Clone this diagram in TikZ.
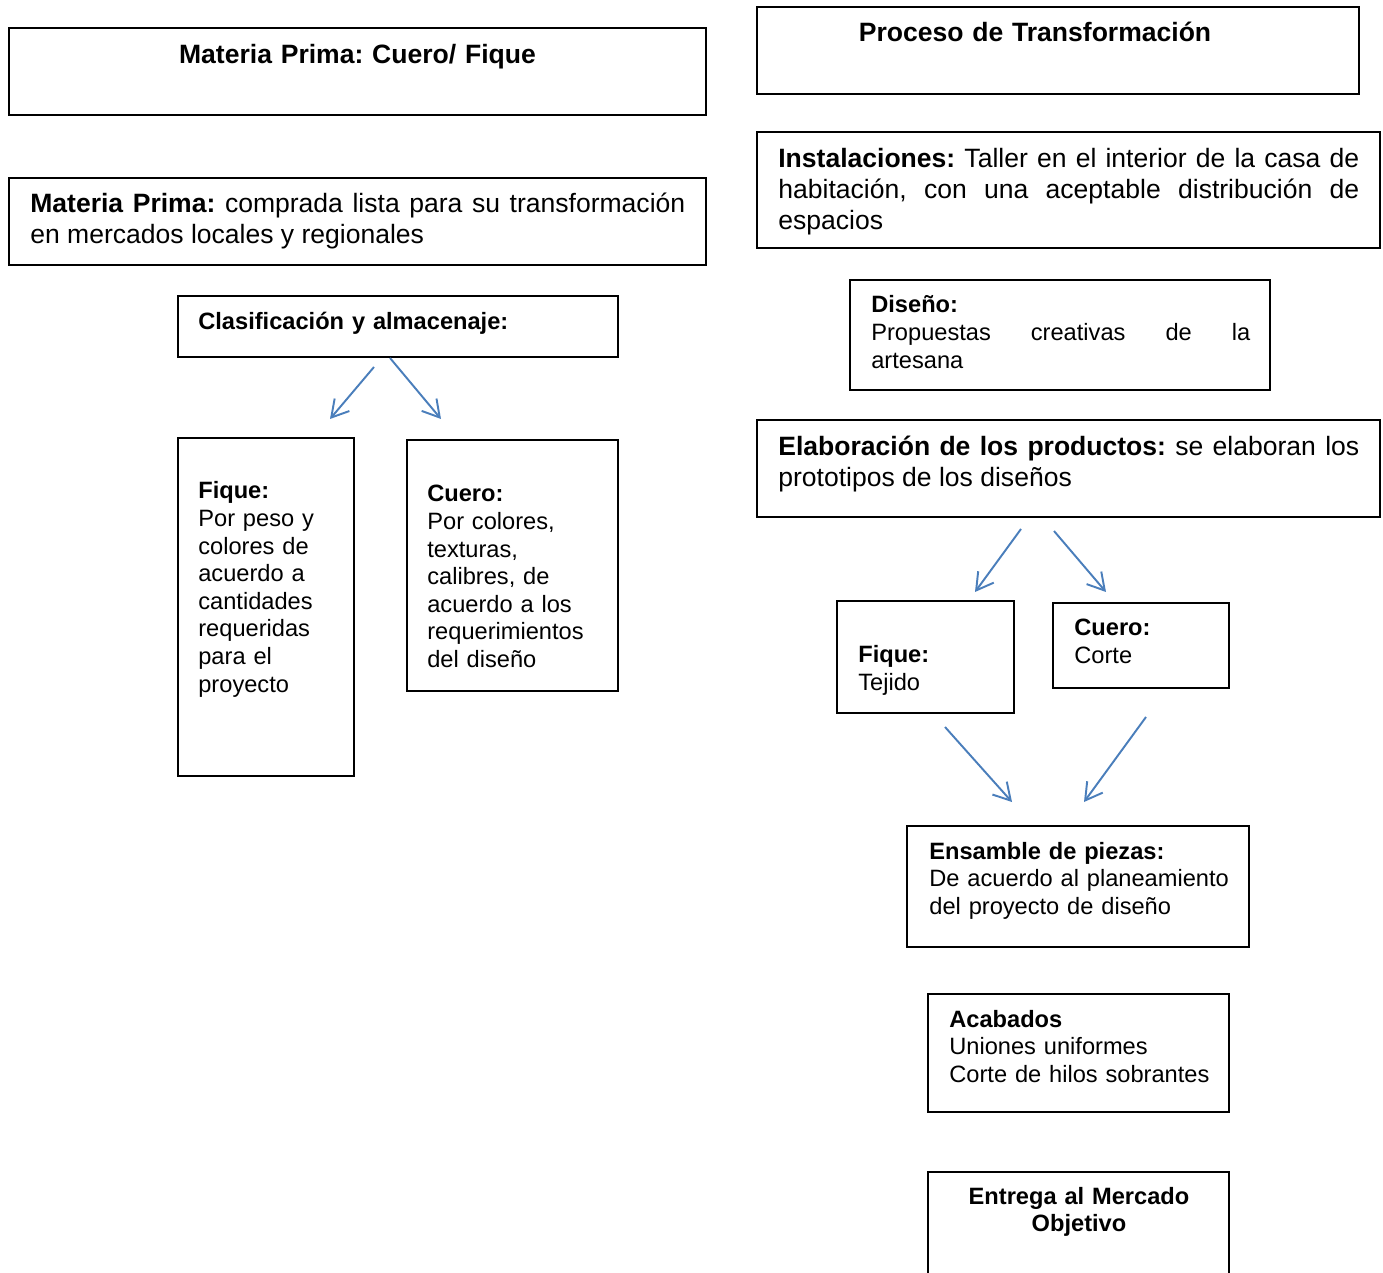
\documentclass[tikz,border=0pt]{standalone}
\usepackage{fontspec}
\setmainfont{Liberation Sans}
\usetikzlibrary{arrows.meta}
\definecolor{flecha}{RGB}{74,126,187}
\newcommand{\grande}{\fontsize{15.1}{17.6}\selectfont}
\newcommand{\chico}{\fontsize{13.45}{15.7}\selectfont}
\frenchspacing

\begin{document}
\begin{tikzpicture}[x=0.02cm, y=-0.02cm]
	\tikzstyle{caja} = [rectangle, draw=black, line width=0.9pt, inner sep=0pt,
	outer sep=0pt]
	\tikzstyle{texto} = [inner sep=0pt, anchor=base west, align=left, font=\chico]
	\tikzstyle{titulo} = [inner sep=0pt, anchor=base, align=center,
	font=\grande\bfseries]
	\tikzstyle{arrow} = [line width=1.1pt, draw=flecha,
	-{Straight Barb[length=9.5pt, width=11pt]}]
	\useasboundingbox (0,0) rectangle (1383,1273);
	% columna izquierda
	\node (tituloMateria) [caja, minimum width=13.94cm, minimum height=1.74cm] at (357.5,71.5) {};
	\node (tituloMateriaTxt) [titulo, text width=13cm] at (357.5,64) {Materia Prima: Cuero/ Fique};
	\node (materia) [caja, minimum width=13.94cm, minimum height=1.74cm] at (357.5,221.5) {};
	\node (materiaTxt) [texto, font=\grande, text width=13.1cm, align=justify] at (30,213)
	{\textbf{Materia Prima:} comprada lista para su transformación\linebreak en mercados locales y regionales};
	\node (clasif) [caja, minimum width=8.8cm, minimum height=1.22cm] at (398,326.5) {};
	\node (clasifTxt) [texto, text width=8cm] at (198,330) {\textbf{Clasificación y almacenaje:}};
	\node (fiqueClas) [caja, minimum width=3.52cm, minimum height=6.76cm] at (266,607) {};
	\node (fiqueClasTxt) [texto, text width=3cm] at (198,499)
	{\textbf{Fique:}\\ Por peso y\\ colores de\\ acuerdo a\\ cantidades\\ requeridas\\ para el\\ proyecto};
	\node (cueroClas) [caja, minimum width=4.22cm, minimum height=5.02cm] at (512.5,565.5) {};
	\node (cueroClasTxt) [texto, text width=3.7cm] at (427,502)
	{\textbf{Cuero:}\\ Por colores,\\ texturas,\\ calibres, de\\ acuerdo a los\\ requerimientos\\ del diseño};
	% columna derecha
	\node (tituloProceso) [caja, minimum width=12.04cm, minimum height=1.74cm] at (1058,50.5) {};
	\node (tituloProcesoTxt) [titulo, text width=11cm] at (1035,42) {Proceso de Transformación};
	\node (instal) [caja, minimum width=12.46cm, minimum height=2.32cm] at (1068.5,190) {};
	\node (instalTxt) [texto, font=\grande, text width=11.62cm, align=justify] at (778,168)
	{\textbf{Instalaciones:} Taller en el interior de la casa de\linebreak habitación, con una aceptable distribución de\linebreak espacios};
	\node (diseno) [caja, minimum width=8.4cm, minimum height=2.2cm] at (1060,335) {};
	\node (disenoTxt) [texto, text width=7.58cm, align=justify] at (871,313)
	{\textbf{Diseño:}\\ Propuestas creativas de la\linebreak artesana};
	\node (elab) [caja, minimum width=12.46cm, minimum height=1.94cm] at (1068.5,468.5) {};
	\node (elabTxt) [texto, font=\grande, text width=11.62cm, align=justify] at (778,456)
	{\textbf{Elaboración de los productos:} se elaboran los\linebreak prototipos de los diseños};
	\node (fiqueElab) [caja, minimum width=3.54cm, minimum height=2.24cm] at (925.5,657) {};
	\node (fiqueElabTxt) [texto, text width=3cm] at (858,663) {\textbf{Fique:}\\ Tejido};
	\node (cueroElab) [caja, minimum width=3.52cm, minimum height=1.7cm] at (1141,645.5) {};
	\node (cueroElabTxt) [texto, text width=3cm] at (1074,636) {\textbf{Cuero:}\\ Corte};
	\node (ensamble) [caja, minimum width=6.84cm, minimum height=2.42cm] at (1078,886.5) {};
	\node (ensambleTxt) [texto, text width=6.2cm] at (929,859)
	{\textbf{Ensamble de piezas:}\\ De acuerdo al planeamiento\\ del proyecto de diseño};
	\node (acabados) [caja, minimum width=6.02cm, minimum height=2.36cm] at (1078.5,1053) {};
	\node (acabadosTxt) [texto, text width=5.6cm] at (949,1027)
	{\textbf{Acabados}\\ Uniones uniformes\\ Corte de hilos sobrantes};
	\node (entrega) [caja, minimum width=6.02cm, minimum height=2.56cm] at (1078.5,1236) {};
	\node (entregaTxt) [titulo, font=\chico\bfseries, text width=5.6cm] at (1079,1204)
	{Entrega al Mercado\\ Objetivo};
	% flechas
	\coordinate (a1ini) at (374,367);  \coordinate (a1fin) at (330,419);
	\coordinate (a2ini) at (390,358);  \coordinate (a2fin) at (441,419);
	\coordinate (a3ini) at (1021,529); \coordinate (a3fin) at (975,592);
	\coordinate (a4ini) at (1054,531); \coordinate (a4fin) at (1106,592);
	\coordinate (a5ini) at (945,727);  \coordinate (a5fin) at (1012,802);
	\coordinate (a6ini) at (1146,717); \coordinate (a6fin) at (1084,802);
	\draw [arrow] (a1ini) -- (a1fin);
	\draw [arrow] (a2ini) -- (a2fin);
	\draw [arrow] (a3ini) -- (a3fin);
	\draw [arrow] (a4ini) -- (a4fin);
	\draw [arrow] (a5ini) -- (a5fin);
	\draw [arrow] (a6ini) -- (a6fin);
\end{tikzpicture}
\end{document}
